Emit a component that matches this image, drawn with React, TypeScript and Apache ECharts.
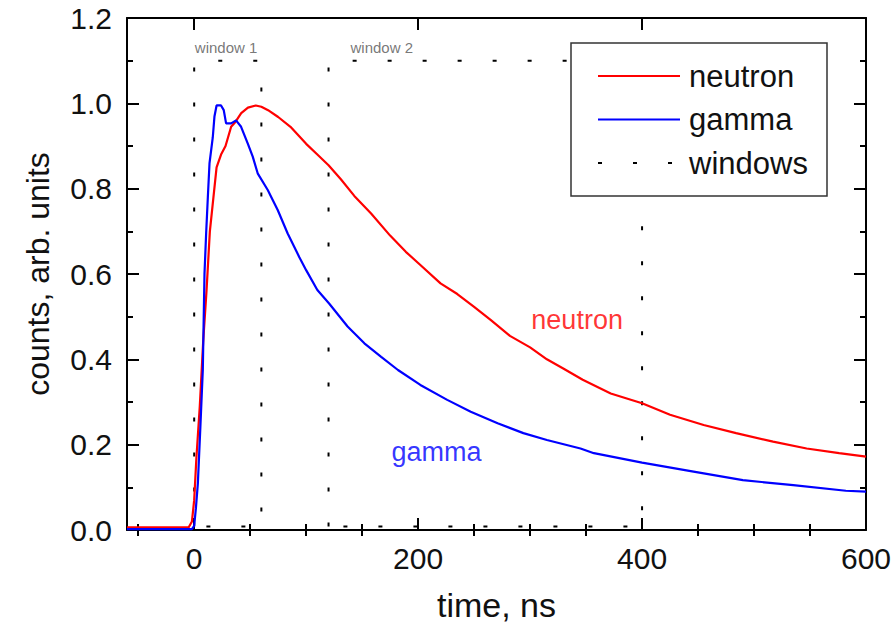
import React, { useEffect, useRef } from "react";
import * as echarts from "echarts";

const FONT = '"Liberation Sans", Arial, sans-serif';

// neutron pulse shape (time ns, normalized counts)
const neutronTime = [-60, -5, -2, 0, 2, 5, 8, 11, 14, 17, 20, 24, 28, 33, 37, 42, 48, 55, 60, 66, 75, 86, 100, 110, 120, 131, 143, 158, 175, 189, 202, 220, 235, 250, 265, 282, 300, 315, 330, 347, 372, 400, 425, 455, 484, 517, 547, 576, 600];
const neutronCounts = [0.006, 0.006, 0.02, 0.07, 0.17, 0.29, 0.44, 0.56, 0.70, 0.775, 0.85, 0.88, 0.90, 0.945, 0.957, 0.977, 0.99, 0.995, 0.992, 0.984, 0.968, 0.945, 0.905, 0.88, 0.855, 0.822, 0.783, 0.742, 0.69, 0.652, 0.621, 0.578, 0.553, 0.523, 0.492, 0.455, 0.428, 0.40, 0.378, 0.352, 0.32, 0.297, 0.27, 0.246, 0.227, 0.207, 0.191, 0.18, 0.172];

// gamma pulse shape
const gammaTime = [-60, -2, 0, 1.5, 3.3, 5.5, 7.7, 9.2, 10.7, 12.2, 13.7, 16.6, 18.1, 20, 24, 26.4, 28.5, 33, 37.4, 41.9, 47.8, 52.3, 56.7, 65.7, 74.6, 83.5, 93.8, 100, 110, 120.5, 137, 152, 167, 182, 202, 226, 247, 271, 294, 315, 345, 357, 400, 446, 490, 535, 582, 600];
const gammaCounts = [0.002, 0.002, 0.01, 0.05, 0.11, 0.24, 0.375, 0.6, 0.696, 0.78, 0.86, 0.92, 0.969, 0.995, 0.995, 0.984, 0.953, 0.953, 0.96, 0.945, 0.906, 0.875, 0.836, 0.797, 0.75, 0.695, 0.64, 0.609, 0.5625, 0.531, 0.477, 0.4375, 0.406, 0.375, 0.34, 0.305, 0.277, 0.25, 0.227, 0.211, 0.191, 0.18, 0.158, 0.137, 0.117, 0.105, 0.092, 0.09];

// integration windows [start, end] in ns
const window1 = [0, 60];
const window2 = [120, 400];
const windowTop = 1.1;
const windowBottom = 0.008;

// axis ticks
const xMajor = [0, 200, 400, 600];
const xMinor = [-50, 50, 100, 150, 250, 300, 350, 450, 500, 550];

// text annotations
const annotations = [
  { text: "window 1", x: 28.5, y: 1.132, color: "#555555", size: 15 },
  { text: "window 2", x: 167.5, y: 1.132, color: "#555555", size: 15 },
  { text: "neutron", x: 342, y: 0.492, color: "#ff0000", size: 27 },
  { text: "gamma", x: 216.5, y: 0.183, color: "#0000ff", size: 27 },
];

const legendItems = [
  { name: "neutron", color: "#ff0000", dotted: false },
  { name: "gamma", color: "#0000ff", dotted: false },
  { name: "windows", color: "#000000", dotted: true },
];

const DOT: number[] = [4, 31];

function rectPath(w: number[]) {
  return [
    [w[0], windowBottom],
    [w[0], windowTop],
    [w[1], windowTop],
    [w[1], windowBottom],
    [w[0], windowBottom],
  ];
}

export default function App() {
  const ref = useRef<HTMLDivElement>(null);
  useEffect(() => {
    document.body.style.margin = "0";
    const chart = echarts.init(ref.current!, null, { renderer: "svg" });

    const axisLine = { show: true, onZero: false, lineStyle: { color: "#000", width: 2 } };
    const xBase = { type: "value", min: -60, max: 600, splitLine: { show: false }, gridIndex: 0 };
    const majorTick = (vals: number[]) => ({ show: true, inside: true, length: 12, customValues: vals, lineStyle: { color: "#000", width: 2 } });
    const minorTickX = { show: true, inside: true, length: 6, customValues: xMinor, lineStyle: { color: "#000", width: 2 } };

    const yBase = {
      type: "value",
      min: 0,
      max: 1.2,
      interval: 0.2,
      splitLine: { show: false },
      axisLine,
      axisTick: { show: true, inside: true, length: 12, lineStyle: { color: "#000", width: 2 } },
      minorTick: { show: true, splitNumber: 2, length: 6, lineStyle: { color: "#000", width: 2 } },
    };

    const legendGraphics: any[] = [
      { type: "rect", shape: { x: 571, y: 43, width: 256, height: 153 }, style: { fill: "#fff", stroke: "#333", lineWidth: 1.5 }, z: 100 },
    ];
    legendItems.forEach((it, i) => {
      const y = 76 + i * 43.5;
      legendGraphics.push({
        type: "line",
        shape: { x1: 598, y1: y, x2: 680, y2: y },
        style: { stroke: it.color, lineWidth: 2, lineDash: it.dotted ? DOT : null },
        z: 101,
      });
      legendGraphics.push({
        type: "text",
        x: 689,
        y: y,
        style: { text: it.name, fill: "#111", font: `31px ${FONT}`, textVerticalAlign: "middle", textAlign: "left" },
        z: 101,
      });
    });

    const option: any = {
      animation: false,
      backgroundColor: "#ffffff",
      grid: { left: 127, right: 30, top: 18, bottom: 108, containLabel: false },
      xAxis: [
        {
          ...xBase,
          position: "bottom",
          axisLine,
          axisTick: majorTick(xMajor),
          axisLabel: { customValues: xMajor, fontSize: 30, color: "#111", margin: 13, fontFamily: FONT },
          name: "time, ns",
          nameLocation: "middle",
          nameGap: 58,
          nameTextStyle: { fontSize: 34, color: "#111", fontFamily: FONT },
        },
        { ...xBase, position: "bottom", axisLine: { show: false }, axisTick: minorTickX, axisLabel: { show: false } },
        { ...xBase, position: "top", axisLine, axisTick: majorTick(xMajor), axisLabel: { show: false } },
        { ...xBase, position: "top", axisLine: { show: false }, axisTick: minorTickX, axisLabel: { show: false } },
      ],
      yAxis: [
        {
          ...yBase,
          position: "left",
          axisLabel: { formatter: (v: number) => v.toFixed(1), fontSize: 30, color: "#111", margin: 15, fontFamily: FONT },
          name: "counts, arb. units",
          nameLocation: "middle",
          nameGap: 73,
          nameRotate: 90,
          nameTextStyle: { fontSize: 32, color: "#111", fontFamily: FONT },
        },
        { ...yBase, position: "right", axisLabel: { show: false } },
      ],
      series: [
        {
          name: "window 1",
          type: "line",
          data: rectPath(window1),
          showSymbol: false,
          symbol: "none",
          lineStyle: { color: "#000", width: 2, type: DOT, cap: "butt" },
          z: 3,
          silent: true,
        },
        {
          name: "window 2",
          type: "line",
          data: rectPath(window2),
          showSymbol: false,
          symbol: "none",
          lineStyle: { color: "#000", width: 2, type: DOT, cap: "butt" },
          z: 3,
          silent: true,
        },
        {
          name: "neutron",
          type: "line",
          data: neutronTime.map((t, i) => [t, neutronCounts[i]]),
          showSymbol: false,
          symbol: "none",
          lineStyle: { color: "#ff0000", width: 2.2 },
          z: 4,
        },
        {
          name: "gamma",
          type: "line",
          data: gammaTime.map((t, i) => [t, gammaCounts[i]]),
          showSymbol: false,
          symbol: "none",
          lineStyle: { color: "#0000ff", width: 2.2 },
          z: 5,
        },
        {
          name: "labels",
          type: "scatter",
          symbolSize: 0,
          silent: true,
          z: 6,
          data: annotations.map((a) => ({
            value: [a.x, a.y],
            label: {
              show: true,
              position: "inside",
              formatter: a.text,
              color: a.color,
              fontSize: a.size,
              fontFamily: FONT,
              align: "center",
              verticalAlign: "middle",
            },
          })),
        },
      ],
      graphic: legendGraphics,
    };
    chart.setOption(option);
    return () => chart.dispose();
  }, []);
  return <div ref={ref} style={{ width: 896, height: 638 }} />;
}
